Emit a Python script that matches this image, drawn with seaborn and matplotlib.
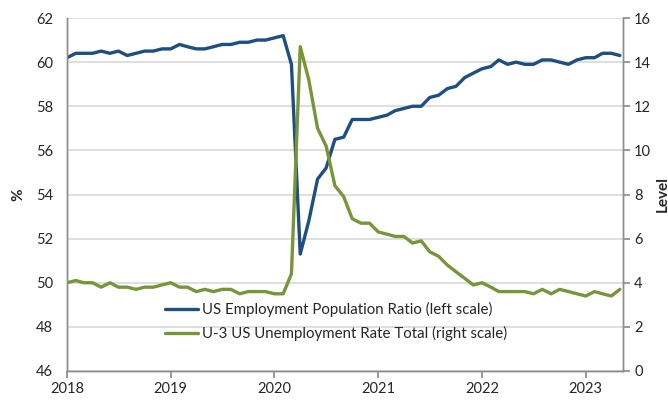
import numpy as np
import pandas as pd
import matplotlib
matplotlib.use("Agg")
import matplotlib.pyplot as plt
import seaborn as sns

# Datos mensuales, enero 2018 - mayo 2023
meses = pd.date_range("2018-01-01", "2023-05-01", freq="MS")

ratio_empleo = [
    60.2, 60.4, 60.4, 60.4, 60.5, 60.4, 60.5, 60.3, 60.4, 60.5, 60.5, 60.6,
    60.6, 60.8, 60.7, 60.6, 60.6, 60.7, 60.8, 60.8, 60.9, 60.9, 61.0, 61.0,
    61.1, 61.2, 59.9, 51.3, 52.8, 54.7, 55.2, 56.5, 56.6, 57.4, 57.4, 57.4,
    57.5, 57.6, 57.8, 57.9, 58.0, 58.0, 58.4, 58.5, 58.8, 58.9, 59.3, 59.5,
    59.7, 59.8, 60.1, 59.9, 60.0, 59.9, 59.9, 60.1, 60.1, 60.0, 59.9, 60.1,
    60.2, 60.2, 60.4, 60.4, 60.3,
]

tasa_desempleo = [
    4.0, 4.1, 4.0, 4.0, 3.8, 4.0, 3.8, 3.8, 3.7, 3.8, 3.8, 3.9,
    4.0, 3.8, 3.8, 3.6, 3.7, 3.6, 3.7, 3.7, 3.5, 3.6, 3.6, 3.6,
    3.5, 3.5, 4.4, 14.7, 13.2, 11.0, 10.2, 8.4, 7.9, 6.9, 6.7, 6.7,
    6.3, 6.2, 6.1, 6.1, 5.8, 5.9, 5.4, 5.2, 4.8, 4.5, 4.2, 3.9,
    4.0, 3.8, 3.6, 3.6, 3.6, 3.6, 3.5, 3.7, 3.5, 3.7, 3.6, 3.5,
    3.4, 3.6, 3.5, 3.4, 3.7,
]

etiquetas = [
    "US Employment Population Ratio (left scale)",
    "U-3 US Unemployment Rate Total (right scale)",
]
color_azul = "#1F4E80"
color_verde = "#77963A"

df = pd.DataFrame({"fecha": meses, "ratio": ratio_empleo, "desempleo": tasa_desempleo})

sns.set_theme(style="white")
plt.rcParams["font.family"] = ["Lato", "DejaVu Sans"]

fig = plt.figure(figsize=(6.68, 4.0), dpi=100)
ax = fig.add_axes([0.1003, 0.0725, 0.8323, 0.8825])
ax2 = ax.twinx()

sns.lineplot(data=df, x="fecha", y="ratio", ax=ax, color=color_azul, lw=2.4,
             label=etiquetas[0], legend=False)
sns.lineplot(data=df, x="fecha", y="desempleo", ax=ax2, color=color_verde, lw=2.4,
             label=etiquetas[1], legend=False)

ax.set_ylim(46, 62)
ax.set_yticks(np.arange(46, 63, 2))
ax2.set_ylim(0, 16)
ax2.set_yticks(np.arange(0, 17, 2))
ax.set_xlim(pd.Timestamp("2018-01-01"), pd.Timestamp("2023-05-12"))
anios = pd.date_range("2018-01-01", "2023-01-01", freq="YS")
ax.set_xticks(anios)
ax.set_xticklabels([str(a.year) for a in anios])

ax.grid(axis="y", color="#d9d9d9", lw=1.2)
ax.set_axisbelow(True)
ax.set_xlabel("")
ax.set_ylabel("%", fontsize=11, fontweight="bold", labelpad=8)
ax2.set_ylabel("Level", fontsize=11, fontweight="bold", labelpad=3)

for a in (ax, ax2):
    for lado in a.spines.values():
        lado.set_color("#8c8c8c")
        lado.set_linewidth(1.0)
    a.spines["top"].set_visible(False)
ax.tick_params(axis="y", length=0, labelsize=10.5, pad=10)
ax.tick_params(axis="x", length=5, color="#8c8c8c", direction="out", labelsize=10.5, pad=3)
ax.xaxis.set_tick_params(bottom=True)
ax2.tick_params(axis="y", length=5, color="#8c8c8c", direction="out", labelsize=10.5, pad=3, right=True)

lineas = ax.get_lines() + ax2.get_lines()
leg = ax2.legend(lineas, etiquetas, loc="center left", bbox_to_anchor=(0.176, 0.14),
                 frameon=False, fontsize=10.8, handlelength=2.2, handletextpad=0.25,
                 labelspacing=0.55, borderaxespad=0, borderpad=0)

fig.savefig("out.png", dpi=100)
